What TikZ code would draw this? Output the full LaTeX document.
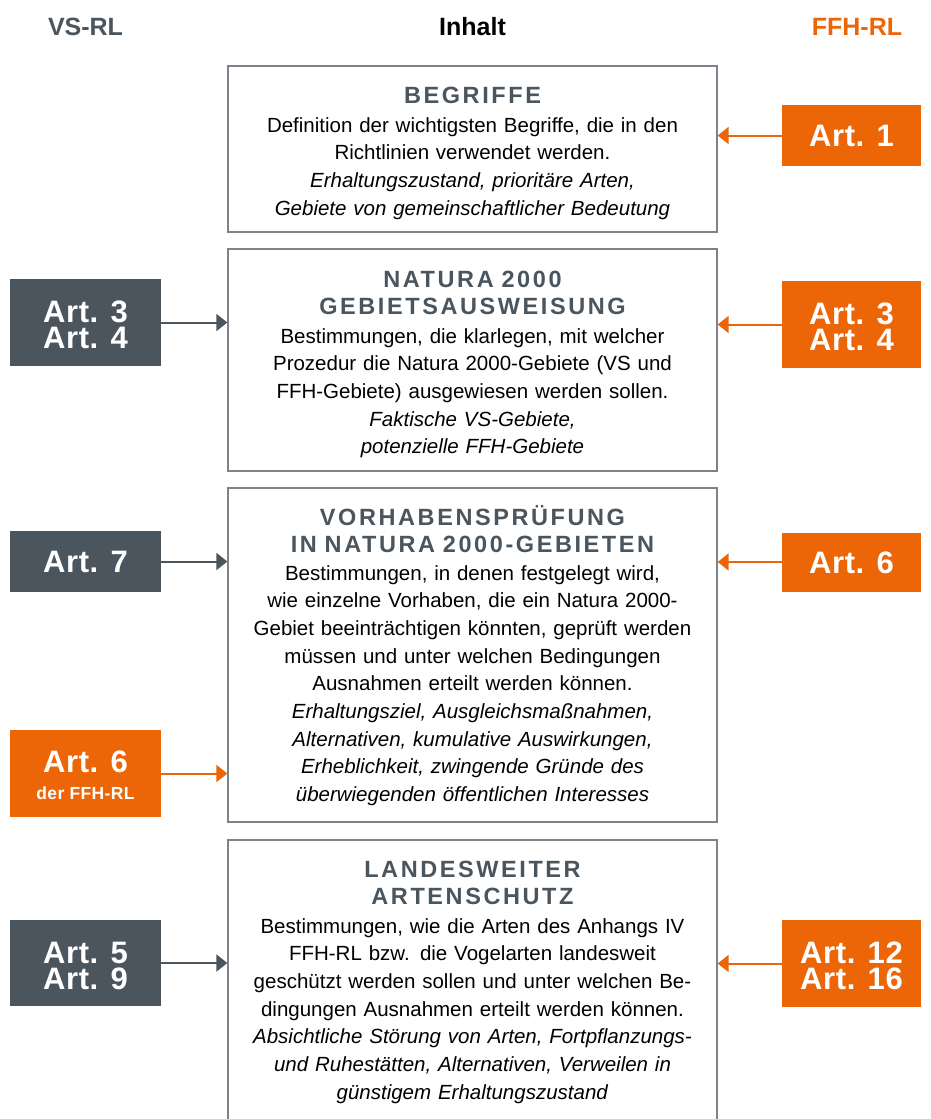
\documentclass[tikz,border=0pt]{standalone}
\usepackage{fontspec}
\setmainfont{Liberation Sans}
\newfontfamily\ttlfont[LetterSpace=11]{Liberation Sans}
\newfontfamily\lblfont[LetterSpace=2]{Liberation Sans}
\usetikzlibrary{arrows.meta}
\definecolor{vsgrey}{HTML}{4A555E}
\definecolor{ffhorange}{HTML}{EC6608}
\definecolor{boxline}{HTML}{7C838A}
\begin{document}
\begin{tikzpicture}[x=1pt,y=-1pt,
  mainbox/.style={draw=boxline, line width=1.3pt, minimum width=489pt, inner sep=0pt},
  ttl/.style={anchor=base, align=center, text=vsgrey, inner sep=0pt, text width=490pt,
    font=\ttlfont\bfseries\fontsize{23.5}{27}\selectfont},
  body/.style={anchor=base, align=center, text=black, inner sep=0pt, text width=490pt,
    font=\fontsize{20.5}{27.7}\selectfont},
  hdr/.style={anchor=base, inner sep=0pt, font=\bfseries\fontsize{25}{30}\selectfont},
  lbl/.style={inner sep=0pt, text=white, align=center,
    font=\lblfont\bfseries\fontsize{31}{26}\selectfont},
  vsbox/.style={lbl, fill=vsgrey, minimum width=151pt},
  ffhbox/.style={lbl, fill=ffhorange, minimum width=139pt},
  one/.style={text height=22pt, text depth=0pt},
  two/.style={text height=52pt, text depth=0pt},
  garrow/.style={draw=vsgrey, line width=2pt, -{Triangle[length=11pt,width=17pt]}},
  oarrow/.style={draw=ffhorange, line width=2pt, -{Triangle[length=11pt,width=17pt]}}
]
\useasboundingbox (0,0) rectangle (930,1119);
\clip (0,0) rectangle (930,1119);
\fill[white] (0,0) rectangle (930,1119);

% headers
\node[hdr, text=vsgrey] (hvs) at (85.5,35) {VS-RL};
\node[hdr, text=black] (hin) at (472.5,35) {Inhalt};
\node[hdr, text=ffhorange] (hffh) at (857,35) {FFH-RL};

% main boxes
\node[mainbox, minimum height=166pt] (b1) at (472.5,149) {};
\node[mainbox, minimum height=222pt] (b2) at (472.5,360) {};
\node[mainbox, minimum height=334pt] (b3) at (472.5,655) {};
\node[mainbox, minimum height=295pt] (b4) at (472.5,987.5) {};

% box 1
\node[ttl] (b1h) at (472.5,103) {BEGRIFFE};
\node[body] (b1x) at (472.5,132) {Definition der wichtigsten Begriffe, die in den\\
Richtlinien verwendet werden.\\
\textit{Erhaltungszustand, prioritäre Arten,}\\
\textit{Gebiete von gemeinschaftlicher Bedeutung}};

% box 2
\node[ttl] (b2h) at (472.5,287) {NATURA 2000\\GEBIETSAUSWEISUNG};
\node[body] (b2x) at (472.5,343) {Bestimmungen, die klarlegen, mit welcher\\
Prozedur die Natura 2000-Gebiete (VS und\\
FFH-Gebiete) ausgewiesen werden sollen.\\
\textit{Faktische VS-Gebiete,}\\
\textit{potenzielle FFH-Gebiete}};

% box 3
\node[ttl] (b3h) at (472.5,525) {VORHABENSPRÜFUNG\\IN NATURA 2000-GEBIETEN};
\node[body] (b3x) at (472.5,580) {Bestimmungen, in denen festgelegt wird,\\
wie einzelne Vorhaben, die ein Natura 2000-\\
Gebiet beeinträchtigen könnten, geprüft werden\\
müssen und unter welchen Bedingungen\\
Ausnahmen erteilt werden können.\\
\textit{Erhaltungsziel, Ausgleichsmaßnahmen,}\\
\textit{Alternativen, kumulative Auswirkungen,}\\
\textit{Erheblichkeit, zwingende Gründe des}\\
\textit{überwiegenden öffentlichen Interesses}};

% box 4
\node[ttl] (b4h) at (472.5,877) {LANDESWEITER\\ARTENSCHUTZ};
\node[body] (b4x) at (472.5,933) {Bestimmungen, wie die Arten des Anhangs IV\\
FFH-RL bzw. die Vogelarten landesweit\\
geschützt werden sollen und unter welchen Be-\\
dingungen Ausnahmen erteilt werden können.\\
\textit{Absichtliche Störung von Arten, Fortpflanzungs-}\\
\textit{und Ruhestätten, Alternativen, Verweilen in}\\
\textit{günstigem Erhaltungszustand}};

% left labels
\node[vsbox, two, minimum height=87pt] (L34) at (85.5,322.5) {Art. 3\\Art. 4};
\node[vsbox, one, minimum height=61pt] (L7) at (85.5,561.5) {Art. 7};
\node[ffhbox, minimum width=151pt, minimum height=87pt] (L6) at (85.5,773.5) {};
\node[lbl, anchor=base] (L6a) at (85.5,772) {Art. 6};
\node[lbl, anchor=base, font=\lblfont\bfseries\fontsize{17.5}{20}\selectfont] (L6b) at (85.5,799) {der FFH-RL};
\node[vsbox, two, minimum height=86pt] (L59) at (85.5,963) {Art. 5\\Art. 9};

% right labels
\node[ffhbox, one, minimum height=61pt] (R1) at (851.5,135.5) {Art. 1};
\node[ffhbox, two, minimum height=87pt] (R34) at (851.5,324.5) {Art. 3\\Art. 4};
\node[ffhbox, one, minimum height=59pt] (R6) at (851.5,562) {Art. 6};
\node[ffhbox, two, minimum height=87pt] (R1216) at (851.5,963.5) {Art. 12\\Art. 16};

% connectors
\draw[garrow] (L34.east) -- (L34.east -| b2.west);
\draw[garrow] (L7.east) -- (L7.east -| b3.west);
\draw[oarrow] (L6.east) -- (L6.east -| b3.west);
\draw[garrow] (L59.east) -- (L59.east -| b4.west);
\draw[oarrow] (R1.west) -- (R1.west -| b1.east);
\draw[oarrow] (R34.west) -- (R34.west -| b2.east);
\draw[oarrow] (R6.west) -- (R6.west -| b3.east);
\draw[oarrow] (R1216.west) -- (R1216.west -| b4.east);
\end{tikzpicture}
\end{document}
